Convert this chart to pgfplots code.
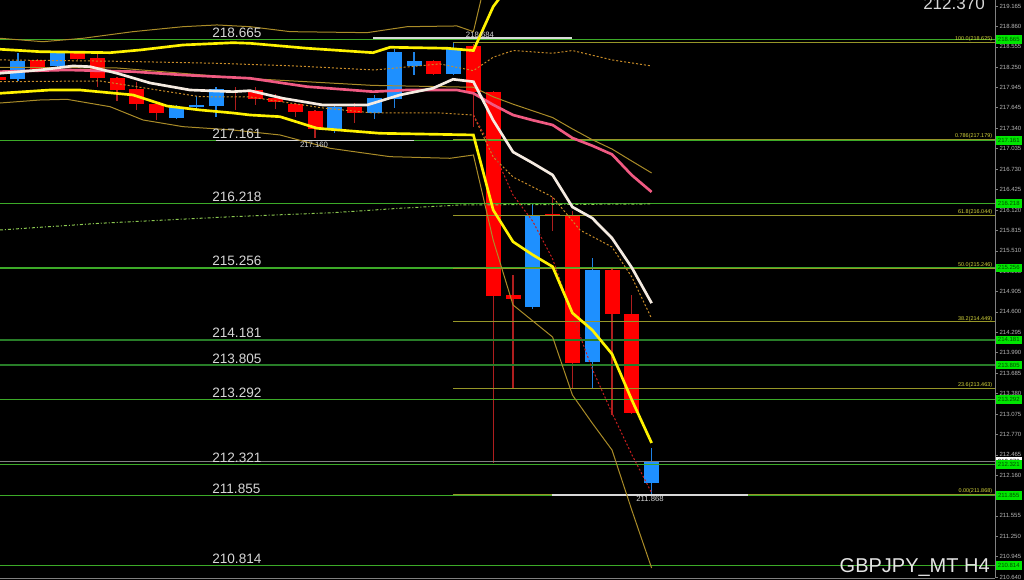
\documentclass[border=0pt]{standalone}
\usepackage{fontspec}
\setmainfont{Liberation Sans}
\usepackage{pgfplots}
\usepackage{pgfplotstable}
\pgfplotsset{compat=1.18}

\definecolor{bodyred}{RGB}{255,0,0}
\definecolor{bodyblue}{RGB}{30,144,255}
\definecolor{wickred}{RGB}{175,30,30}
\definecolor{wickblue}{RGB}{30,130,230}
\definecolor{hgreen}{RGB}{60,170,40}
\definecolor{dgreen}{RGB}{40,125,40}
\definecolor{boxgreen}{RGB}{0,230,0}
\definecolor{fib}{RGB}{150,150,40}
\definecolor{fibtext}{RGB}{215,215,60}
\definecolor{band}{RGB}{170,140,40}
\definecolor{dotor}{RGB}{200,140,40}
\definecolor{dotred}{RGB}{200,30,30}
\definecolor{maw}{RGB}{245,235,225}
\definecolor{map}{RGB}{240,90,130}
\definecolor{malong}{RGB}{140,200,80}
\definecolor{axgray}{RGB}{128,128,128}
\definecolor{lbl}{RGB}{215,215,215}

% candles: bar index, open, high, low, close
\pgfplotstableread{
i  o       h       l       c
-1 218.100 218.130 218.050 218.060
1  218.359 218.380 218.210 218.225
3  218.459 218.498 218.360 218.369
4  218.384 218.483 217.960 218.086
5  218.086 218.100 217.747 217.911
6  217.922 218.026 217.613 217.698
7  217.702 217.720 217.463 217.573
11 217.900 217.960 217.610 217.890
12 217.911 217.961 217.687 217.772
13 217.796 217.851 217.623 217.737
14 217.698 217.720 217.513 217.587
15 217.603 217.620 217.190 217.325
17 217.653 217.713 217.424 217.573
21 218.344 218.360 218.130 218.150
23 218.568 218.600 217.364 217.881
24 217.886 217.900 212.344 214.837
25 214.852 215.150 213.470 214.788
27 216.060 216.319 215.800 216.030
28 216.046 216.100 213.450 213.841
30 215.225 215.240 213.060 214.568
31 214.568 214.850 213.080 213.095
}\redbars

\pgfplotstableread{
i  o       h       l       c
0  218.071 218.459 218.050 218.349
2  218.274 218.500 218.260 218.459
8  217.498 217.687 217.480 217.653
9  217.653 217.822 217.640 217.687
10 217.672 217.961 217.513 217.926
16 217.325 217.690 217.265 217.653
18 217.573 217.837 217.474 217.787
19 217.772 218.519 217.638 218.483
20 218.274 218.483 218.135 218.344
22 218.150 218.620 218.130 218.543
26 214.677 216.210 214.640 216.046
29 213.856 215.399 213.460 215.225
32 212.050 212.563 211.868 212.364
}\bluebars

\begin{document}
\begin{tikzpicture}
\fill[black] (0pt,0pt) rectangle (768pt,435pt);
\begin{axis}[
    at={(0pt,1.5pt)}, anchor=south west,
    width=746.25pt, height=433.5pt, scale only axis,
    xmin=-0.909, xmax=49.343,
    ymin=210.6277, ymax=219.2546,
    axis line style={draw=none},
    clip mode=individual,
    xtick=\empty,
    ytick={210.640,210.945,211.250,211.555,211.855,212.160,212.465,212.770,213.075,213.380,213.685,213.990,214.295,214.600,214.905,215.205,215.510,215.815,216.120,216.425,216.730,217.035,217.340,217.645,217.945,218.250,218.555,218.860,219.165},
    yticklabels={210.640,210.945,211.250,211.555,211.855,212.160,212.465,212.770,213.075,213.380,213.685,213.990,214.295,214.600,214.905,215.205,215.510,215.815,216.120,216.425,216.730,217.035,217.340,217.645,217.945,218.250,218.555,218.860,219.165},
    ytick pos=right, yticklabel pos=right,
    tick align=outside,
    major tick length=2.25pt,
    tick style={draw=axgray, line width=0.5pt},
    yticklabel style={font=\fontsize{4.5}{5}\selectfont, text=lbl!85!black, inner sep=1pt},
]

% candle wicks and bodies
\addplot[draw=none, mark=none, forget plot, error bars/.cd, y dir=both, y explicit, error mark=none,
  error bar style={draw=wickred, line width=0.8pt}]
  table[x=i, y=o, y error plus expr={\thisrow{h}-\thisrow{o}}, y error minus expr={\thisrow{o}-\thisrow{l}}] {\redbars};
\addplot[draw=none, mark=none, forget plot, error bars/.cd, y dir=both, y explicit, error mark=none,
  error bar style={draw=wickblue, line width=0.8pt}]
  table[x=i, y=o, y error plus expr={\thisrow{h}-\thisrow{o}}, y error minus expr={\thisrow{o}-\thisrow{l}}] {\bluebars};
\addplot[draw=none, mark=none, forget plot, error bars/.cd, y dir=both, y explicit, error mark=none,
  error bar style={draw=bodyred, line width=11.25pt}]
  table[x=i, y=o, y error plus expr={0}, y error minus expr={\thisrow{o}-\thisrow{c}}] {\redbars};
\addplot[draw=none, mark=none, forget plot, error bars/.cd, y dir=both, y explicit, error mark=none,
  error bar style={draw=bodyblue, line width=11.25pt}]
  table[x=i, y=o, y error plus expr={\thisrow{c}-\thisrow{o}}, y error minus expr={0}] {\bluebars};

% horizontal levels
\addplot[hgreen, line width=1.1pt] coordinates {(-1,218.665) (50,218.665)};
\addplot[hgreen, line width=1.1pt] coordinates {(-1,217.161) (50,217.161)};
\addplot[hgreen, line width=1.1pt] coordinates {(-1,216.218) (50,216.218)};
\addplot[hgreen, line width=1.1pt] coordinates {(-1,215.256) (50,215.256)};
\addplot[dgreen, line width=1.1pt] coordinates {(-1,214.181) (50,214.181)};
\addplot[dgreen, line width=1.1pt] coordinates {(-1,213.805) (50,213.805)};
\addplot[hgreen, line width=1.1pt] coordinates {(-1,213.292) (50,213.292)};
\addplot[axgray, line width=0.6pt] coordinates {(-1,212.370) (50,212.370)};
\addplot[hgreen, line width=1.1pt] coordinates {(-1,212.321) (50,212.321)};
\addplot[hgreen, line width=1.1pt] coordinates {(-1,211.855) (50,211.855)};
\addplot[hgreen, line width=1.1pt] coordinates {(-1,210.814) (50,210.814)};

% fibonacci levels
\addplot[fib, line width=0.75pt] coordinates {(21.97,218.625) (50,218.625)};
\addplot[fib, line width=0.75pt] coordinates {(21.97,217.179) (50,217.179)};
\addplot[fib, line width=0.75pt] coordinates {(21.97,216.044) (50,216.044)};
\addplot[fib, line width=0.75pt] coordinates {(21.97,215.246) (50,215.246)};
\addplot[fib, line width=0.75pt] coordinates {(21.97,214.449) (50,214.449)};
\addplot[fib, line width=0.75pt] coordinates {(21.97,213.463) (50,213.463)};
\addplot[fib, line width=0.75pt] coordinates {(21.97,211.868) (50,211.868)};

% high / low markers
\addplot[white!85!black, line width=1.1pt] coordinates {(17.93,218.684) (27.98,218.684)};
\addplot[white!85!black, line width=1.1pt] coordinates {(10,217.160) (20,217.160)};
\addplot[white!85!black, line width=1.1pt] coordinates {(26.97,211.868) (36.87,211.868)};

% long moving average
\addplot[malong, line width=0.75pt, dash pattern=on 2.25pt off 1.5pt on 0.75pt off 1.5pt] coordinates {
(-0.91,215.822) (4.14,215.922) (10.86,216.021) (15.91,216.080) (19.29,216.146) (22.32,216.195) (31.92,216.210)};

% outer bands
\addplot[band, line width=0.75pt] coordinates {
(-0.91,218.683) (1.26,218.632) (3.28,218.683) (5.81,218.782) (8.33,218.856) (10.05,218.882) (11.72,218.856)
(13.74,218.782) (17.63,218.767) (19.65,218.856) (22.17,218.867) (23,218.782) (24,220.03)};
\addplot[band, line width=0.75pt] coordinates {
(-0.91,217.717) (1.11,217.762) (2.47,217.772) (4.65,217.662) (6.31,217.464) (8.33,217.364) (10.86,217.314)
(13.23,217.240) (15.76,217.041) (18.79,216.916) (21.82,216.892) (23,216.941) (24,215.670) (25,214.703)
(26,214.464) (27,214.224) (28,213.359) (29,212.940) (30,212.538) (31,211.640) (32,210.777)};
\addplot[band, line width=0.75pt] coordinates {
(-0.91,218.250) (5,218.240) (11.2,218.090) (17.9,217.980) (23,217.952) (24,217.810) (25,217.700)
(27,217.500) (28,217.330) (29,217.170) (30,217.030) (31,216.850) (32,216.673)};

% dotted inner lines
\addplot[dotor, line width=0.75pt, dash pattern=on 1.5pt off 1.5pt] coordinates {
(-0.91,218.360) (5,218.340) (10,218.310) (14,218.270) (18,218.210) (21.3,218.300) (23,218.200)
(24,218.400) (25,218.500) (27,218.460) (28,218.500) (30,218.360) (32,218.270)};
\addplot[dotor, line width=0.75pt, dash pattern=on 1.5pt off 1.5pt] coordinates {
(-0.91,218.035) (4.14,218.046) (9.19,217.811) (11.72,217.807) (15.4,217.643) (17.93,217.568) (21.31,217.568)
(23,217.538) (24,216.910) (25,216.613) (27,216.314) (28.38,215.822) (30,215.568) (31,215.120) (32,214.500)};
\addplot[dotred, line width=0.75pt, dash pattern=on 1.5pt off 1.5pt] coordinates {
(23,217.538) (24,217.000) (25,216.344) (26,215.950) (27,215.390) (28,214.550) (29,213.750) (30,213.090)
(31,212.470) (32,211.900)};

% moving averages
\addplot[map, line width=2pt] coordinates {
(-0.91,218.185) (2.47,218.210) (5.81,218.185) (8.33,218.135) (11.72,218.086) (14.6,217.961) (17.93,217.886)
(19.65,217.911) (22.17,217.911) (23,217.862) (24,217.690) (25,217.538) (26,217.460) (27,217.389) (28,217.195)
(29,217.080) (30,216.950) (31,216.640) (32,216.389)};
\addplot[maw, line width=2pt] coordinates {
(-0.91,218.161) (1.11,218.210) (2.78,218.270) (3.64,218.259) (5.0,218.161) (6.67,218.016) (8.69,217.911)
(10.86,217.886) (11.72,217.901) (13.38,217.787) (15.4,217.687) (17.63,217.687) (19.29,217.837) (20.96,217.937)
(21.97,218.071) (23,218.035) (24,217.460) (25,216.986) (26,216.820) (27,216.643) (28,216.165) (29,216.000)
(30,215.700) (31,215.260) (32,214.730)};

% inner bands (thick yellow)
\addplot[yellow, line width=2pt] coordinates {
(-0.91,218.519) (1.11,218.483) (4.65,218.468) (6.16,218.508) (8.33,218.583) (10.86,218.617) (11.72,218.608)
(14.6,218.534) (17.93,218.468) (18.79,218.549) (21.67,218.534) (23,218.500) (24,219.155) (25,219.550)};
\addplot[yellow, line width=2pt] coordinates {
(-0.91,217.862) (1.62,217.911) (3.13,217.911) (5.81,217.837) (7.53,217.672) (9.19,217.613) (10.86,217.568)
(11.72,217.538) (13.23,217.513) (15.1,217.340) (18.28,217.265) (23,217.240) (24,216.120) (25,215.647)
(26,215.450) (27,215.274) (28,214.583) (29,214.329) (30,213.971) (31,213.285) (32,212.643)};

% level labels on the left
\foreach \v in {218.665,217.161,216.218,215.256,214.181,213.805,213.292,212.321,211.855,210.814} {
  \edef\tmp{\noexpand\node[anchor=south west, inner sep=0pt, yshift=1.2pt, text=lbl,
     font=\noexpand\fontsize{10.2}{12}\noexpand\selectfont] at (axis cs:9.8,\v) {\v};}
  \tmp
}

% fibonacci labels
\node[anchor=south east, inner sep=0.4pt, text=fibtext, font=\fontsize{4.1}{4.5}\selectfont] at (axis cs:49.24,218.625) {100.0(218.625)};
\node[anchor=south east, inner sep=0.4pt, text=fibtext, font=\fontsize{4.1}{4.5}\selectfont] at (axis cs:49.24,217.179) {0.786(217.179)};
\node[anchor=south east, inner sep=0.4pt, text=fibtext, font=\fontsize{4.1}{4.5}\selectfont] at (axis cs:49.24,216.044) {61.8(216.044)};
\node[anchor=south east, inner sep=0.4pt, text=fibtext, font=\fontsize{4.1}{4.5}\selectfont] at (axis cs:49.24,215.246) {50.0(215.246)};
\node[anchor=south east, inner sep=0.4pt, text=fibtext, font=\fontsize{4.1}{4.5}\selectfont] at (axis cs:49.24,214.449) {38.2(214.449)};
\node[anchor=south east, inner sep=0.4pt, text=fibtext, font=\fontsize{4.1}{4.5}\selectfont] at (axis cs:49.24,213.463) {23.6(213.463)};
\node[anchor=south east, inner sep=0.4pt, text=fibtext, font=\fontsize{4.1}{4.5}\selectfont] at (axis cs:49.24,211.868) {0.00(211.868)};

% high/low marker labels
\node[anchor=south, inner sep=0.5pt, text=lbl, font=\fontsize{5.8}{6}\selectfont] at (axis cs:23.33,218.684) {218.684};
\node[anchor=north, inner sep=0.8pt, text=lbl, font=\fontsize{5.8}{6}\selectfont] at (axis cs:14.95,217.160) {217.160};
\node[anchor=north, inner sep=0.8pt, text=lbl, font=\fontsize{5.8}{6}\selectfont] at (axis cs:31.92,211.868) {211.868};

% right axis price boxes
\node[anchor=west, fill=white, text=black, inner sep=0pt, minimum width=20.25pt, minimum height=6pt,
  font=\fontsize{4.5}{5}\selectfont] at (axis cs:49.343,212.370) {212.370};
\foreach \v in {218.665,217.161,216.218,215.256,214.181,213.805,213.292,212.321,211.855,210.814} {
  \edef\tmp{\noexpand\node[anchor=west, fill=boxgreen, text=black!70!green, inner sep=0pt,
     minimum width=20.25pt, minimum height=6.5pt, font=\noexpand\fontsize{4.5}{5}\noexpand\selectfont]
     at (axis cs:49.343,\v) {\v};}
  \tmp
}

\draw[axgray, line width=0.6pt] (rel axis cs:1,0) -- (rel axis cs:1,1);
\draw[axgray, line width=0.6pt] (rel axis cs:0,0) -- (rel axis cs:1,0);
\end{axis}

\node[anchor=base east, inner sep=0pt, text=lbl, font=\fontsize{12.75}{14}\selectfont] at (738.75pt,427.5pt) {212.370};
\node[anchor=base east, inner sep=0pt, text=white!90!black, font=\fontsize{15}{17}\selectfont] at (742.5pt,5.25pt) {GBPJPY\_MT H4};

\pgfresetboundingbox
\path (0pt,0pt) rectangle (768pt,435pt);
\end{tikzpicture}
\end{document}
